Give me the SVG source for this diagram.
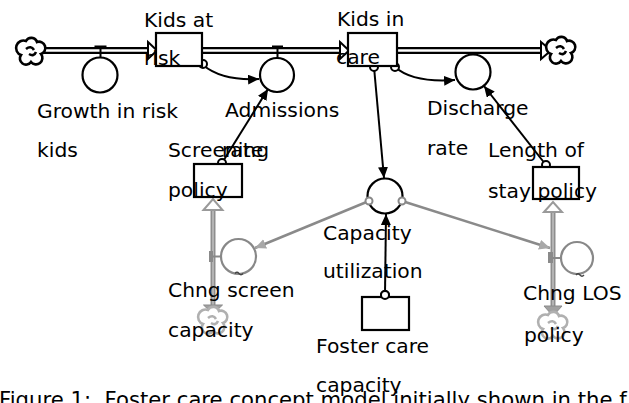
<svg xmlns="http://www.w3.org/2000/svg" width="629" height="403" viewBox="0 0 629 403">
  <style>
    .lbl { font-family: "DejaVu Sans", Verdana, sans-serif; font-size: 20.3px; fill: #000; }
    .caption { font-family: "DejaVu Sans", Verdana, sans-serif; font-size: 21.2px; fill: #000; }
    .stock { fill: #fff; stroke: #000; stroke-width: 2.2; }
    .aux { fill: #fff; stroke: #000; stroke-width: 2.2; }
    .gaux { fill: #fff; stroke: #888; stroke-width: 2.2; }
    .pipe-out { fill: none; stroke: #000; stroke-width: 7; }
    .pipe-in { fill: none; stroke: #fff; stroke-width: 2.4; }
    .gpipe-out { fill: none; stroke: #8e8e8e; stroke-width: 5; }
    .gpipe-in { fill: none; stroke: #c4c4c4; stroke-width: 1.4; }
    .head { fill: #fff; stroke: #000; stroke-width: 2; stroke-linejoin: miter; }
    .ghead { fill: #fff; stroke: #9a9a9a; stroke-width: 2; }
    .gheadf { fill: #a0a0a0; stroke: #8a8a8a; stroke-width: 1; }
    .conn { fill: none; stroke: #000; stroke-width: 2; marker-end: url(#arr); }
    .gconn { fill: none; stroke: #8a8a8a; stroke-width: 2.5; marker-end: url(#garr); }
    .tail { fill: #fff; stroke: #000; stroke-width: 2; }
    .gtail { fill: #fff; stroke: #888; stroke-width: 2; }
    .cloud { fill: #fff; stroke: #000; stroke-width: 2.6; }
    .gcloud { fill: #fff; stroke: #b0b0b0; stroke-width: 2.6; }
    .valve { fill: #000; }
    .gvalve { fill: #8a8a8a; }
    .tilde { fill: none; stroke: #444; stroke-width: 1.3; }
  </style>
  <defs>
    <marker id="arr" markerUnits="userSpaceOnUse" markerWidth="12" markerHeight="10" refX="11" refY="5" orient="auto">
      <path d="M0,0 L11,5 L0,10 Z" fill="#000"/>
    </marker>
    <marker id="garr" markerUnits="userSpaceOnUse" markerWidth="12" markerHeight="10" refX="11" refY="5" orient="auto">
      <path d="M0,0 L11,5 L0,10 Z" fill="#a8a8a8"/>
    </marker>
    <!-- cloud symbol centred on the origin -->
    <path id="cloudShape" d="M-5,-10 A6,6 0 0 1 6,-9 A6,6 0 0 1 10,3 A6,6 0 0 1 0,11 A6,6 0 0 1 -10,4 A6,6 0 0 1 -5,-10 Z M-5,-2 Q0,-6 3,-1 M-2,3 Q3,6 5,1"/>
  </defs>

  <!-- flows, pipes and information links -->
  <g id="connectors">
    <!-- main material chain -->
    <path class="pipe-out" d="M42,50.5 H150"/>
    <path class="pipe-in" d="M42,50.5 H150"/>
    <polygon class="head" points="148,42 157,50.5 148,59"/>
    <path class="pipe-out" d="M202,50.5 H342"/>
    <path class="pipe-in" d="M202,50.5 H342"/>
    <polygon class="head" points="340,42 349,50.5 340,59"/>
    <path class="pipe-out" d="M397,50.5 H543"/>
    <path class="pipe-in" d="M397,50.5 H543"/>
    <polygon class="head" points="541,42 551,50.5 541,59"/>

    <!-- policy adjustment flows -->
    <path class="gpipe-out" d="M213,208 V306"/>
    <path class="gpipe-in" d="M213,208 V306"/>
    <polygon class="ghead" points="203.5,210 213,199 222.5,210"/>
    <polygon class="gheadf" points="203.5,305 222.5,305 213,314"/>
    <path class="gpipe-out" d="M553,211 V307"/>
    <path class="gpipe-in" d="M553,211 V307"/>
    <polygon class="ghead" points="544,212 553,202 562,212"/>
    <polygon class="gheadf" points="544,306 562,306 553,316"/>

    <!-- information links -->
    <path class="conn" d="M203,65 Q222,81 259,79"/>
    <path class="conn" d="M395,67 Q413,83 455,80"/>
    <path class="conn" d="M374,67 L384,178"/>
    <path class="conn" d="M222,163 L268,89"/>
    <path class="conn" d="M546,165 L484,86"/>
    <path class="conn" d="M385,295 L386,214"/>
    <path class="gconn" d="M369,201 L255,248"/>
    <path class="gconn" d="M402,201 L550,248"/>

    <circle class="tail" cx="203" cy="64" r="4"/>
    <circle class="tail" cx="374" cy="67" r="4"/>
    <circle class="tail" cx="395" cy="67" r="4"/>
    <circle class="tail" cx="222" cy="163" r="4"/>
    <circle class="tail" cx="546" cy="165" r="4"/>
    <circle class="tail" cx="385" cy="295" r="4"/>
  </g>

  <g id="source-cloud"><use href="#cloudShape" class="cloud" x="31" y="51"/></g>
  <g id="sink-cloud"><use href="#cloudShape" class="cloud" x="561" y="50"/></g>
  <g id="screen-cloud"><use href="#cloudShape" class="gcloud" x="213" y="320"/></g>
  <g id="los-cloud"><use href="#cloudShape" class="gcloud" x="553" y="325"/></g>

  <g id="kids-at-risk">
    <rect class="stock" x="156" y="33" width="46" height="33"/>
    <text class="lbl" x="144" y="27">Kids at</text>
    <text class="lbl" x="144" y="65">risk</text>
  </g>

  <g id="kids-in-care">
    <rect class="stock" x="348" y="33" width="49" height="33"/>
    <text class="lbl" x="337" y="26">Kids in</text>
    <text class="lbl" x="336" y="64">care</text>
  </g>

  <g id="growth-in-risk-kids">
    <rect class="valve" x="94.5" y="45.5" width="12" height="3"/>
    <line x1="100.5" y1="47" x2="100.5" y2="57" stroke="#000" stroke-width="2"/>
    <circle class="aux" cx="100" cy="75" r="17.5"/>
    <text class="lbl" x="37" y="118">Growth in risk</text>
    <text class="lbl" x="37" y="157">kids</text>
  </g>

  <g id="admissions-rate">
    <rect class="valve" x="272" y="45.5" width="11" height="3"/>
    <line x1="277.5" y1="47" x2="277.5" y2="58" stroke="#000" stroke-width="2"/>
    <circle class="aux" cx="277" cy="75" r="17"/>
    <text class="lbl" x="225" y="117">Admissions</text>
    <text class="lbl" x="222" y="157">rate</text>
  </g>

  <g id="discharge-rate">
    <circle class="aux" cx="473" cy="72" r="17.5"/>
    <text class="lbl" x="427" y="115">Discharge</text>
    <text class="lbl" x="427" y="155">rate</text>
  </g>

  <g id="screening-policy">
    <rect class="stock" x="194" y="164" width="48" height="33"/>
    <text class="lbl" x="168" y="157">Screening</text>
    <text class="lbl" x="168" y="197">policy</text>
  </g>

  <g id="length-of-stay-policy">
    <rect class="stock" x="533" y="167" width="46" height="32"/>
    <text class="lbl" x="488" y="157">Length of</text>
    <text class="lbl" x="488" y="198">stay policy</text>
  </g>

  <g id="capacity-utilization">
    <circle class="aux" cx="385" cy="196" r="17.5"/>
    <circle class="gtail" cx="369" cy="201" r="3.5"/>
    <circle class="gtail" cx="402" cy="201" r="3.5"/>
    <text class="lbl" x="323" y="240">Capacity</text>
    <text class="lbl" x="323" y="278">utilization</text>
  </g>

  <g id="foster-care-capacity">
    <rect class="stock" x="362" y="297" width="47" height="33"/>
    <circle class="tail" cx="385" cy="295" r="4"/>
    <text class="lbl" x="316" y="353">Foster care</text>
    <text class="lbl" x="316" y="392">capacity</text>
  </g>

  <g id="chng-screen-capacity">
    <rect class="gvalve" x="209" y="251" width="4" height="11"/>
    <line x1="213" y1="256.5" x2="221" y2="256.5" stroke="#888" stroke-width="2"/>
    <circle class="gaux" cx="238.5" cy="256.5" r="17.5"/>
    <path class="tilde" d="M235,273.5 q2,-2.5 4,0 t4,0"/>
    <text class="lbl" x="168" y="297">Chng screen</text>
    <text class="lbl" x="168" y="337">capacity</text>
  </g>

  <g id="chng-los-policy">
    <rect class="gvalve" x="548" y="252" width="5" height="11"/>
    <line x1="553" y1="258" x2="561" y2="258" stroke="#888" stroke-width="2"/>
    <circle class="gaux" cx="577" cy="258" r="16"/>
    <path class="tilde" d="M576,275 q2,-2.5 4,0 t4,0"/>
    <text class="lbl" x="523" y="300">Chng LOS</text>
    <text class="lbl" x="524" y="342">policy</text>
  </g>

  <text class="caption" x="-1" y="407" xml:space="preserve">Figure 1:  Foster care concept model initially shown in the f</text>
</svg>
